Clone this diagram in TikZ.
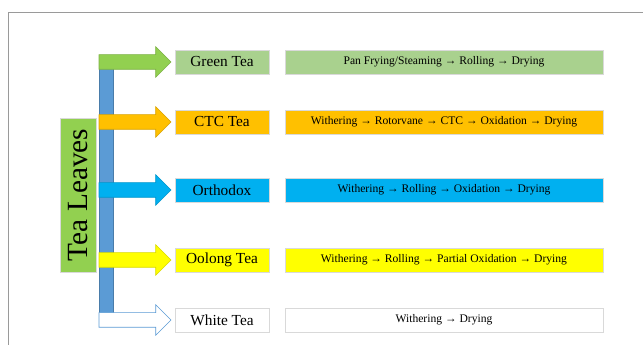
\documentclass[tikz,border=0pt]{standalone}
\usepackage{fontspec}
\setmainfont{Liberation Serif}
\usetikzlibrary{shapes.arrows,shadows}
\definecolor{leafgreen}{HTML}{92D050}
\definecolor{palegreen}{HTML}{A9D18E}
\definecolor{amber}{HTML}{FFC000}
\definecolor{sky}{HTML}{00B0F0}
\definecolor{lemon}{HTML}{FFFF00}
\definecolor{stem}{HTML}{5B9BD5}
\definecolor{frame}{HTML}{9A9A9A}

\begin{document}
\begin{tikzpicture}[x=0.75pt,y=-0.75pt,
 kind/.style={draw=gray!30,line width=.5pt,minimum width=70.5pt,minimum height=18pt,inner sep=0pt,
  drop shadow={shadow xshift=.8pt,shadow yshift=-.8pt,fill=gray!60,opacity=.8},
  font=\fontsize{11.5}{13}\selectfont},
 proc/.style={kind,minimum width=238.5pt,font=\fontsize{8.7}{10}\selectfont},
 shoot/.style={single arrow,anchor=tail,minimum height=54pt,inner xsep=0pt,inner ysep=5.25pt,
  single arrow head extend=6pt,single arrow tip angle=90,single arrow head indent=0pt,line width=.4pt},
 leaf/.style={kind,rotate=90,minimum width=115.5pt,minimum height=27pt,fill=leafgreen,
  font=\fontsize{22}{24}\selectfont}]
\path[use as bounding box] (0,0) rectangle (643,345);
\draw[frame,line width=.6pt] (8,345)--(8,12)--(643,12);

% tea types and their processing lines
\node[kind,fill=palegreen] (green) at (222,62) {Green Tea};
\node[proc,fill=palegreen] (greenp) at (444,62) {Pan Frying/Steaming → Rolling → Drying};
\node[kind,fill=amber] (ctc) at (222,122) {CTC Tea};
\node[proc,fill=amber] (ctcp) at (444,122) {Withering → Rotorvane → CTC → Oxidation → Drying};
\node[kind,fill=sky] (orth) at (222,190) {Orthodox};
\node[proc,fill=sky] (orthp) at (444,190) {Withering → Rolling → Oxidation → Drying};
\node[kind,fill=lemon] (oolong) at (222,260) {Oolong Tea};
\node[proc,fill=lemon] (oolongp) at (444,260) {Withering → Rolling → Partial Oxidation → Drying};
\node[kind,fill=white] (white) at (222,320) {White Tea};
\node[proc,fill=white] (whitep) at (444,320) {Withering → Drying};

% the stem and its branches
\node[draw=stem!80!black,line width=.4pt,fill=stem,minimum width=10.5pt,minimum height=193.5pt,inner sep=0pt] (trunk) at (106,184) {};
\node[shoot,fill=leafgreen,draw=leafgreen!85!black] (toGreen) at (trunk.west |- green.west) {};
\node[shoot,fill=amber,draw=amber!85!black] (toCtc) at (trunk.west |- ctc.west) {};
\node[shoot,fill=sky,draw=sky!85!black] (toOrth) at (trunk.west |- orth.west) {};
\node[shoot,fill=lemon,draw=lemon!85!black] (toOolong) at (trunk.west |- oolong.west) {};
\node[shoot,fill=white,draw=stem] (toWhite) at (trunk.west |- white.west) {};

\node[leaf] (leaves) at (78,195) {Tea Leaves};
\end{tikzpicture}
\end{document}
